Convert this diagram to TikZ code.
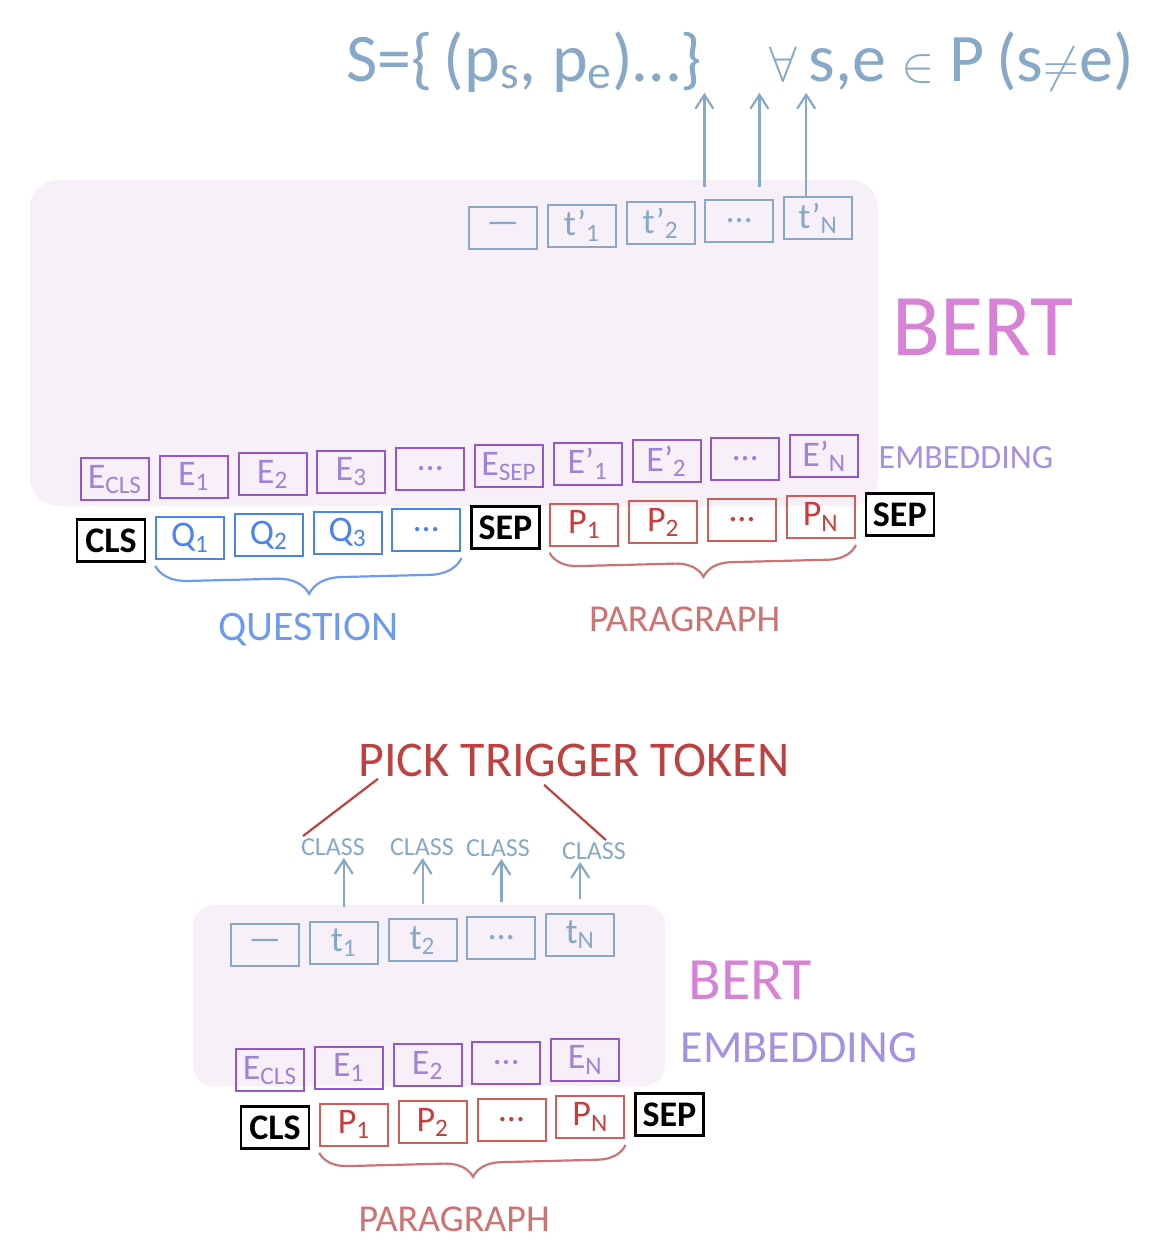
\documentclass[tikz,border=0pt]{standalone}
\usepackage{fontspec}
\setmainfont{Carlito}
\usetikzlibrary{arrows.meta,positioning,decorations.pathreplacing}
\definecolor{tokenteal}{RGB}{135,168,198}
\definecolor{embpurple}{RGB}{150,85,205}
\definecolor{embtext}{RGB}{160,130,215}
\definecolor{qblue}{RGB}{75,130,240}
\definecolor{qlabel}{RGB}{110,155,240}
\definecolor{pred}{RGB}{208,92,92}
\definecolor{ptext}{RGB}{200,60,60}
\definecolor{plabel}{RGB}{205,115,115}
\definecolor{bertpink}{RGB}{215,130,215}
\definecolor{emblabel}{RGB}{165,145,225}
\definecolor{bertbg}{RGB}{248,240,248}
\definecolor{pickred}{RGB}{190,65,65}
\tikzset{
  tok/.style={
    draw,
    line width=1pt,
    minimum width=34pt,
    minimum height=21pt,
    inner sep=0pt,
    yshift=1.3pt,
    font=\fontsize{18}{20}\selectfont
  },
  outtok/.style={tok, draw=tokenteal, text=tokenteal},
  embtok/.style={tok, draw=embpurple, text=embtext},
  qtok/.style={tok, draw=qblue, text=qblue},
  ptok/.style={tok, draw=pred, text=ptext},
  spectok/.style={tok, draw=black, line width=1.2pt, font=\fontsize{18}{20}\selectfont\bfseries},
  classlbl/.style={text=tokenteal, inner sep=1pt, font=\fontsize{13}{15}\selectfont},
  uparrow/.style={
    -{Straight Barb[length=7pt,width=9pt]},
    line width=1.1pt,
    tokenteal
  },
  qbrace/.style={decorate, decoration={brace, mirror, amplitude=16pt, raise=3pt}, line width=1.1pt, qlabel},
  pbrace/.style={decorate, decoration={brace, mirror, amplitude=14pt, raise=3pt}, line width=1.1pt, plabel},
  pickline/.style={line width=1.1pt, pickred}
}

\begin{document}
\begin{tikzpicture}[x=0.5pt, y=-0.5pt, node distance=4.4pt]
\useasboundingbox (0,0) rectangle (1164,1254);

% BERT blocks
\fill[bertbg, rounded corners=14pt] (30,180) rectangle (878,506);
\fill[bertbg, rounded corners=10pt] (193,905) rectangle (665,1086);

% top: span prediction
\node[text=tokenteal, inner sep=0pt, font=\fontsize{34}{36}\selectfont] (formula) at (740,62)
  {S=\{\,(p\textsubscript{s}, p\textsubscript{e})\ldots\}\quad$\forall$\,s,e $\in$ P\,(s$\neq$e)};

\node[outtok] (tdash) at (503,231) {—};
\node[outtok, right=of tdash] (t1p) {t'\textsubscript{1}};
\node[outtok, right=of t1p] (t2p) {t'\textsubscript{2}};
\node[outtok, right=of t2p] (tdotsp) {\ldots};
\node[outtok, right=of tdotsp] (tNp) {t'\textsubscript{N}};

\node[embtok] (ecls) at (115,482) {E\textsubscript{CLS}};
\node[embtok, right=of ecls] (e1) {E\textsubscript{1}};
\node[embtok, right=of e1] (e2) {E\textsubscript{2}};
\node[embtok, right=of e2] (e3) {E\textsubscript{3}};
\node[embtok, right=of e3] (edots) {\ldots};
\node[embtok, right=of edots] (esep) {E\textsubscript{SEP}};
\node[embtok, right=of esep] (e1p) {E'\textsubscript{1}};
\node[embtok, right=of e1p] (e2p) {E'\textsubscript{2}};
\node[embtok, right=of e2p] (edotsp) {\ldots};
\node[embtok, right=of edotsp] (eNp) {E'\textsubscript{N}};

\node[spectok] (cls) at (111,543) {CLS};
\node[qtok, right=of cls] (q1) {Q\textsubscript{1}};
\node[qtok, right=of q1] (q2) {Q\textsubscript{2}};
\node[qtok, right=of q2] (q3) {Q\textsubscript{3}};
\node[qtok, right=of q3] (qdots) {\ldots};
\node[spectok, right=of qdots] (sep) {SEP};
\node[ptok, right=of sep] (p1) {P\textsubscript{1}};
\node[ptok, right=of p1] (p2) {P\textsubscript{2}};
\node[ptok, right=of p2] (pdots) {\ldots};
\node[ptok, right=of pdots] (pN) {P\textsubscript{N}};
\node[spectok, right=of pN] (sepend) {SEP};

\node[text=bertpink, font=\fontsize{44}{46}\selectfont] (bert) at (983,327) {BERT};
\node[text=emblabel, font=\fontsize{17}{19}\selectfont] (emb) at (966,458) {EMBEDDING};

\coordinate (a1) at ([yshift=6pt]tdotsp.north west);
\coordinate (a2) at ([xshift=10pt,yshift=6pt]tdotsp.north);
\coordinate (a3) at ([xshift=-6pt]tNp.north);
\draw[uparrow] (a1) -- (a1 |- formula.south);
\draw[uparrow] (a2) -- (a2 |- formula.south);
\draw[uparrow] (a3) -- (a3 |- formula.south);

\draw[qbrace] (q1.south west) -- (qdots.south east)
  node[midway, below=25pt, text=qlabel, font=\fontsize{21}{23}\selectfont] (question) {QUESTION};
\draw[pbrace] (p1.south west) -- (pN.south east)
  node[midway, below=28pt, xshift=-9pt, text=plabel, font=\fontsize{19}{21}\selectfont] (para) {PARAGRAPH};

% bottom: trigger classification
\node[text=pickred, inner sep=1pt, font=\fontsize{25}{27}\selectfont] (title) at (574,760) {PICK TRIGGER TOKEN};

\node[classlbl] (c1) at (333,847) {CLASS};
\node[classlbl] (c2) at (422,847) {CLASS};
\node[classlbl] (c3) at (498,848) {CLASS};
\node[classlbl] (c4) at (594,851) {CLASS};

\node[outtok] (bdash) at (265,948) {—};
\node[outtok, right=of bdash] (bt1) {t\textsubscript{1}};
\node[outtok, right=of bt1] (bt2) {t\textsubscript{2}};
\node[outtok, right=of bt2] (btdots) {\ldots};
\node[outtok, right=of btdots] (btN) {t\textsubscript{N}};

\node[embtok] (becls) at (270,1073) {E\textsubscript{CLS}};
\node[embtok, right=of becls] (be1) {E\textsubscript{1}};
\node[embtok, right=of be1] (be2) {E\textsubscript{2}};
\node[embtok, right=of be2] (bedots) {\ldots};
\node[embtok, right=of bedots] (beN) {E\textsubscript{N}};

\node[spectok] (bcls) at (275,1130) {CLS};
\node[ptok, right=of bcls] (bp1) {P\textsubscript{1}};
\node[ptok, right=of bp1] (bp2) {P\textsubscript{2}};
\node[ptok, right=of bp2] (bpdots) {\ldots};
\node[ptok, right=of bpdots] (bpN) {P\textsubscript{N}};
\node[spectok, right=of bpN] (bsep) {SEP};

\node[text=bertpink, font=\fontsize{30}{32}\selectfont] (bbert) at (750,980) {BERT};
\node[text=emblabel, font=\fontsize{23}{25}\selectfont] (bemb) at (799,1048) {EMBEDDING};

\draw[uparrow, shorten <=7pt] (bt1.north) -- (bt1.north |- c1.south);
\draw[uparrow, shorten <=7pt] (bt2.north) -- (bt2.north |- c2.south);
\draw[uparrow, shorten <=7pt] (btdots.north) -- (btdots.north |- c3.south);
\draw[uparrow, shorten <=7pt] (btN.north) -- (btN.north |- c4.south);

\draw[pickline] ([xshift=-98pt]title.south) -- ([xshift=-15pt]c1.north);
\draw[pickline] ([xshift=-15pt,yshift=-3pt]title.south) -- ([xshift=6pt]c4.north);

\draw[pbrace] (bp1.south west) -- (bpN.south east)
  node[midway, below=28pt, xshift=-9pt, text=plabel, font=\fontsize{19}{21}\selectfont] (bpara) {PARAGRAPH};
\end{tikzpicture}
\end{document}
